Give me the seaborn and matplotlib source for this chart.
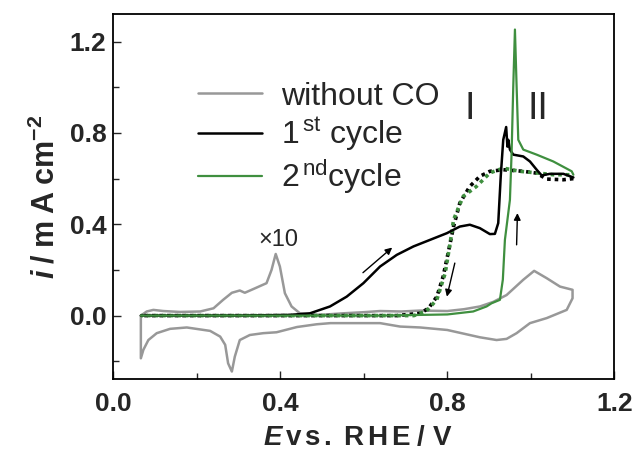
import numpy as np
import pandas as pd
import matplotlib
matplotlib.use("Agg")
import matplotlib.pyplot as plt
from matplotlib.ticker import MultipleLocator, FormatStrFormatter
import seaborn as sns

# --- data (E in V vs. RHE, i in mA cm^-2) ---
gray_E = [0.066, 0.080, 0.096, 0.12, 0.16, 0.208, 0.24, 0.263, 0.284, 0.303, 0.315,
          0.335, 0.367, 0.379, 0.389, 0.399, 0.411, 0.427, 0.447, 0.495, 0.55, 0.60,
          0.639, 0.69, 0.735, 0.80, 0.84, 0.878, 0.91, 0.942, 0.982, 1.008, 1.038,
          1.07, 1.10, 1.10, 1.086, 1.038, 0.998, 0.966, 0.942, 0.918, 0.878, 0.80,
          0.735, 0.687, 0.639, 0.60, 0.52, 0.487, 0.44, 0.391, 0.359, 0.327, 0.303,
          0.291, 0.284, 0.275, 0.268, 0.256, 0.232, 0.176, 0.136, 0.104, 0.084,
          0.072, 0.066, 0.066]
gray_i = [0.0, 0.018, 0.025, 0.02, 0.016, 0.018, 0.032, 0.069, 0.10, 0.11, 0.10,
          0.116, 0.142, 0.20, 0.27, 0.215, 0.098, 0.04, 0.01, 0.003, 0.01, 0.015,
          0.02, 0.018, 0.022, 0.02, 0.028, 0.04, 0.06, 0.09, 0.157, 0.196, 0.164,
          0.127, 0.113, 0.076, 0.025, -0.011, -0.033, -0.077, -0.102, -0.107, -0.095,
          -0.063, -0.052, -0.048, -0.033, -0.033, -0.033, -0.038, -0.05, -0.073,
          -0.077, -0.085, -0.107, -0.18, -0.245, -0.209, -0.128, -0.092, -0.067,
          -0.052, -0.058, -0.077, -0.107, -0.15, -0.187, 0.0]

c1_fwd_E = [0.066, 0.30, 0.423, 0.471, 0.519, 0.559, 0.599, 0.639, 0.679, 0.719,
            0.759, 0.799, 0.830, 0.854, 0.878, 0.902, 0.914, 0.922, 0.928, 0.934,
            0.941, 0.944, 0.946, 0.95, 0.958, 0.982, 0.998, 1.014, 1.026, 1.046,
            1.078, 1.102]
c1_fwd_i = [0.0, 0.0, 0.003, 0.01, 0.04, 0.083, 0.142, 0.215, 0.266, 0.303,
            0.332, 0.361, 0.39, 0.398, 0.383, 0.357, 0.358, 0.405, 0.61, 0.77,
            0.826, 0.74, 0.77, 0.727, 0.705, 0.697, 0.675, 0.639, 0.614, 0.621,
            0.621, 0.605]

c1_rev_E = [1.102, 1.078, 1.038, 1.014, 0.982, 0.934, 0.902, 0.878, 0.854, 0.830,
            0.815, 0.802, 0.790, 0.775, 0.755, 0.735, 0.679, 0.066]
c1_rev_i = [0.60, 0.595, 0.598, 0.624, 0.632, 0.639, 0.632, 0.61, 0.566, 0.493,
            0.39, 0.274, 0.171, 0.083, 0.032, 0.01, 0.0, 0.0]

c2_fwd_E = [0.066, 0.639, 0.80, 0.862, 0.894, 0.906, 0.926, 0.933, 0.938, 0.95,
            0.954, 0.958, 0.962, 0.966, 0.970, 0.982, 1.014, 1.054, 1.098, 1.102]
c2_fwd_i = [0.0, 0.0, 0.005, 0.018, 0.04, 0.054, 0.069, 0.157, 0.332, 0.507,
            0.712, 1.004, 1.253, 1.004, 0.77, 0.727, 0.705, 0.675, 0.632, 0.617]

c2_rev_E = [1.102, 1.054, 1.014, 0.974, 0.934, 0.902, 0.870, 0.838, 0.815, 0.807,
            0.795, 0.775, 0.750, 0.72, 0.066]
c2_rev_i = [0.617, 0.617, 0.625, 0.632, 0.646, 0.625, 0.566, 0.522, 0.42, 0.32,
            0.186, 0.07, 0.02, 0.0, 0.0]

GRAY = "#989898"
GREEN = "#3f8f3f"

sns.set_theme(style="ticks")
plt.rcParams["font.family"] = ["Liberation Sans", "DejaVu Sans"]
plt.rcParams["mathtext.fontset"] = "custom"
plt.rcParams["mathtext.rm"] = "Liberation Sans"
plt.rcParams["mathtext.it"] = "Liberation Sans:italic"
plt.rcParams["mathtext.bf"] = "Liberation Sans:bold"
plt.rcParams["mathtext.bfit"] = "Liberation Sans:italic:bold"

fig = plt.figure(figsize=(6.41, 4.5), dpi=100)
ax = fig.add_axes([113.3 / 641, 1 - 379.3 / 450, 501 / 641, 365.3 / 450])

sns.lineplot(x=gray_E, y=gray_i, sort=False, estimator=None, color=GRAY, lw=1.8,
             label="without CO", ax=ax)
sns.lineplot(x=c1_rev_E, y=c1_rev_i, sort=False, estimator=None, color="black",
             lw=2.6, linestyle=(0, (1, 1.1)), ax=ax)
sns.lineplot(x=c2_rev_E, y=c2_rev_i, sort=False, estimator=None, color=GREEN,
             lw=2.6, linestyle=(1, (1, 1.1)), ax=ax)
sns.lineplot(x=c1_fwd_E, y=c1_fwd_i, sort=False, estimator=None, color="black",
             lw=1.8, label="1$^{\\,\\mathrm{st}}$ cycle", ax=ax)
sns.lineplot(x=c2_fwd_E, y=c2_fwd_i, sort=False, estimator=None, color=GREEN,
             lw=1.6, label="2$^{\\,\\mathrm{nd}}$cycle", ax=ax)

ax.set_xlim(0.0, 1.2)
ax.set_ylim(-0.279, 1.321)
ax.xaxis.set_major_locator(MultipleLocator(0.4))
ax.xaxis.set_minor_locator(MultipleLocator(0.2))
ax.yaxis.set_major_locator(MultipleLocator(0.4))
ax.yaxis.set_minor_locator(MultipleLocator(0.2))
ax.xaxis.set_major_formatter(FormatStrFormatter("%.1f"))
ax.yaxis.set_major_formatter(FormatStrFormatter("%.1f"))
ax.tick_params(which="both", direction="in", top=False, right=False, width=1.0,
               labelsize=19)
ax.tick_params(which="major", length=6)
ax.tick_params(which="minor", length=4)
ax.tick_params(axis="x", pad=9)
ax.tick_params(axis="y", pad=5)
for lab in ax.get_xticklabels() + ax.get_yticklabels():
    lab.set_fontweight("bold")
for sp in ax.spines.values():
    sp.set_linewidth(1.3)
    sp.set_color("black")

ax.set_xlabel(r"$\mathbfit{E}\,\mathbf{v\,s\,.\ R\,H\,E\;/\ V}$", fontsize=20)
ax.xaxis.set_label_coords(0.487, -0.125)
ax.set_ylabel(r"$\mathbfit{i}\;\mathbf{/\;m\;A\;cm}^{\mathbf{-2}}$", fontsize=22,
              labelpad=6)

handles, labels = ax.get_legend_handles_labels()
ax.legend(handles, labels, loc="upper left", bbox_to_anchor=(0.169, 0.815),
          frameon=False, fontsize=23, handlelength=2.0, handletextpad=0.6,
          labelspacing=0.12, borderpad=0, borderaxespad=0)

ax.text(0.395, 0.33, "\u00d710", fontsize=17, ha="center", va="center")
ax.text(0.854, 0.905, "I", fontsize=27, ha="center", va="center")
ax.text(1.017, 0.905, "II", fontsize=27, ha="center", va="center")

arrow = dict(arrowstyle="-|>", color="black", lw=1.0, mutation_scale=10,
             shrinkA=0, shrinkB=0)
ax.annotate("", xy=(0.668, 0.298), xytext=(0.598, 0.188), arrowprops=arrow)
ax.annotate("", xy=(0.799, 0.083), xytext=(0.818, 0.230), arrowprops=arrow)
ax.annotate("", xy=(0.968, 0.449), xytext=(0.966, 0.31), arrowprops=arrow)

fig.savefig("out.png", dpi=100)
